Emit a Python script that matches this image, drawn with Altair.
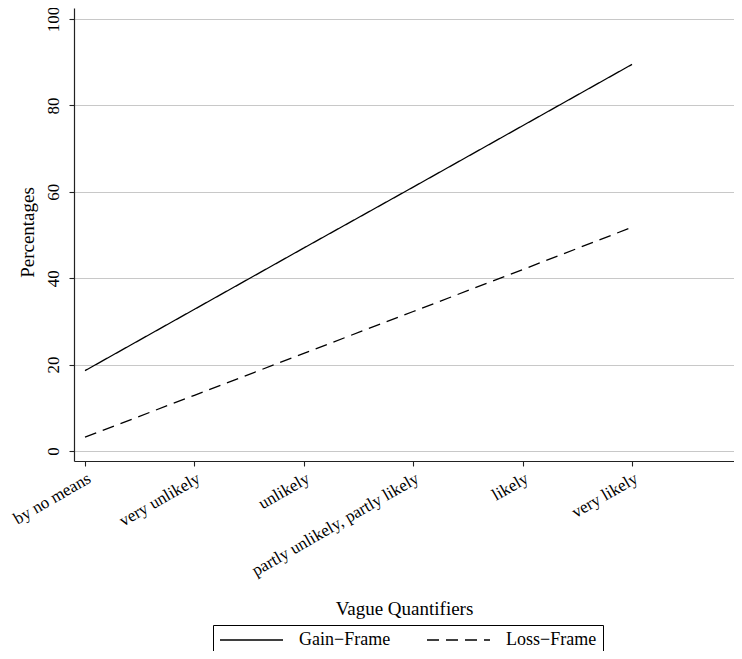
import altair as alt
import pandas as pd

categories = ["by no means", "very unlikely", "unlikely",
              "partly unlikely, partly likely", "likely", "very likely"]
gain = [18.6, 32.8, 47.0, 61.1, 75.3, 89.5]
loss = [3.2, 12.9, 22.6, 32.3, 42.0, 51.8]
series = ["Gain\u2212Frame", "Loss\u2212Frame"]
y_ticks = [0, 20, 40, 60, 80, 100]

rows = []
for i, c in enumerate(categories):
    rows.append({"idx": i, "cat": c, "value": gain[i], "series": series[0]})
    rows.append({"idx": i, "cat": c, "value": loss[i], "series": series[1]})
df = pd.DataFrame(rows)

label_expr = "[" + ",".join("'" + c + "'" for c in categories) + "][datum.value]"

FONT = "Liberation Serif"

chart = alt.Chart(df).mark_line(strokeWidth=1.3, clip=True, color="#000000").encode(
    x=alt.X("idx:Q",
            scale=alt.Scale(domain=[-0.1005, 5.932], nice=False, zero=False),
            axis=alt.Axis(title="Vague Quantifiers", values=list(range(len(categories))),
                          labelExpr=label_expr, labelAngle=330, labelAlign="right",
                          labelBaseline="top", labelPadding=4, grid=False,
                          labelOverlap=False, labelLimit=400, labelFontSize=17,
                          titleY=153, titleBaseline="alphabetic")),
    y=alt.Y("value:Q",
            scale=alt.Scale(domain=[-2.31, 102.55], nice=False, zero=False),
            axis=alt.Axis(title="Percentages", values=y_ticks, labelAngle=270,
                          labelAlign="center", labelBaseline="bottom", labelPadding=7,
                          grid=True, titleX=-47, titleY=224, titleBaseline="middle",
                          titleAngle=270, labelOverlap=False)),
    strokeDash=alt.StrokeDash("series:N",
                              scale=alt.Scale(domain=series, range=[[1, 0], [12, 7]]),
                              legend=alt.Legend(title=None, orient="none", direction="horizontal",
                                                legendX=139, legendY=617,
                                                symbolType="stroke", symbolSize=3969,
                                                symbolStrokeWidth=1.3, symbolStrokeColor="black",
                                                clipHeight=18,
                                                columnPadding=35, labelOffset=15,
                                                padding=6, strokeColor="black",
                                                labelFont=FONT, labelFontSize=18,
                                                labelColor="#000000", labelLimit=300)),
).properties(
    width=660, height=453,
    autosize=alt.AutoSizeParams(type="none"),
    padding={"left": 66, "top": 0, "right": 0, "bottom": 190},
).configure_view(stroke=None).configure_axis(
    labelFont=FONT, titleFont=FONT, labelFontSize=17, titleFontSize=19,
    labelColor="#000000", titleColor="#000000", titleFontWeight="normal",
    domainColor="#222222", domainWidth=1.2, tickColor="#222222", tickWidth=1.1,
    tickSize=5, gridColor="#c8c8c8", gridWidth=1,
)

chart.save("out.html", embed_options={"renderer": "svg", "actions": False})
